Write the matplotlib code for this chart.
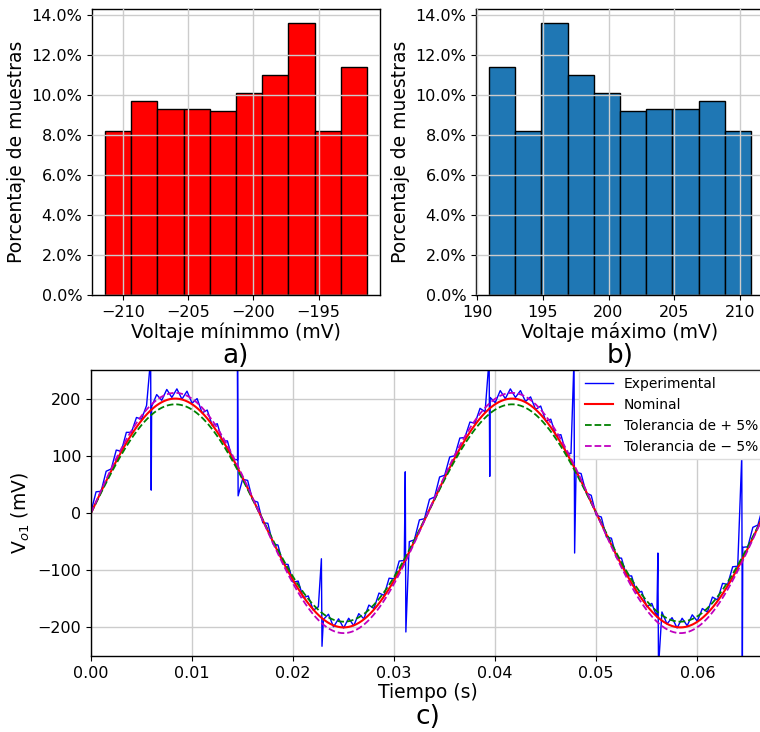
import numpy as np
import matplotlib.pyplot as plt
from matplotlib.ticker import PercentFormatter

# a) voltaje mínimo: bordes de clase y porcentaje de muestras
bins_min = np.linspace(-211.38, -191.30, 11)
pct_min = [8.2, 9.7, 9.3, 9.3, 9.2, 10.1, 11.0, 13.6, 8.2, 11.4]

# b) voltaje máximo
bins_max = np.linspace(190.89, 210.86, 11)
pct_max = [11.4, 8.2, 13.6, 11.0, 10.1, 9.2, 9.3, 9.3, 9.7, 8.2]

# c) señal nominal (200 mV, 30 Hz) y tolerancias
amp_nom = 200.0
freq = 30.0
tol = 0.05
t_end = 0.0667

# señal experimental leída cada 0.5 ms (mV)
dt = 0.0005
v_exp = [2, 37, 38, 73, 77, 110, 108, 141, 141, 167,
         164, 188, 186, 207, 197, 216, 202, 217, 199, 213,
         192, 200, 175, 180, 153, 156, 126, 126, 94, 93,
         59, 57, 22, 19, -17, -18, -54, -56, -89, -90,
         -121, -119, -148, -145, -170, -164, -186, -177, -199, -185,
         -201, -184, -197, -176, -185, -161, -167, -140, -144, -114,
         -115, -84, -83, -50, -47, -12, -10, 24, 28, 63,
         66, 98, 100, 131, 132, 159, 157, 183, 177, 202,
         193, 214, 200, 217, 202, 214, 195, 203, 181, 187,
         161, 164, 135, 137, 105, 104, 71, 69, 35, 31,
         -4, -7, -42, -44, -78, -79, -110, -110, -140, -137,
         -164, -158, -182, -173, -194, -183, -201, -184, -197, -178,
         -189, -167, -173, -147, -152, -123, -125, -94, -93, -60,
         -59, -25, -21, 12]

# picos (glitches) de la señal experimental
spike_t = [0.0059, 0.0145, 0.0228, 0.0311, 0.0394, 0.0478, 0.0561, 0.0644]
spike_hi = [270, 270, -80, 72, 270, 270, -70, 100]
spike_lo = [40, 30, -233, -208, 64, -70, -270, -270]

plt.rcParams['font.family'] = 'DejaVu Sans'
plt.rcParams['axes.linewidth'] = 1.0

fig = plt.figure(figsize=(7.6, 7.32), dpi=100)
W, H = 760.0, 732.0

def box(left, top, right, bottom):
    return [left / W, 1 - bottom / H, (right - left) / W, (bottom - top) / H]

ax_a = fig.add_axes(box(92, 9, 380, 295))
ax_b = fig.add_axes(box(476, 9, 764, 295))
ax_c = fig.add_axes(box(91, 370, 765, 656))

tick_fs = 11.5
label_fs = 13.5
tag_fs = 19

# histogramas
for ax, edges, pct, color, xlabel, tag in [
        (ax_a, bins_min, pct_min, '#ff0000', 'Voltaje mínimmo (mV)', 'a)'),
        (ax_b, bins_max, pct_max, '#1f77b4', 'Voltaje máximo (mV)', 'b)')]:
    ax.bar(edges[:-1], pct, width=np.diff(edges), align='edge',
           color=color, edgecolor='black', linewidth=1.0)
    ax.yaxis.set_major_formatter(PercentFormatter(xmax=100, decimals=1))
    ax.set_ylabel('Porcentaje de muestras', fontsize=label_fs)
    ax.set_xlabel(xlabel, fontsize=label_fs, labelpad=2)
    ax.tick_params(labelsize=tick_fs)
    ax.grid(True, color='#cccccc', linewidth=1.0)
    ax.set_axisbelow(False)
    ax.text(0.5, -0.215, tag, transform=ax.transAxes, ha='center',
            va='center', fontsize=tag_fs)

# señal
t_exp = np.arange(len(v_exp)) * dt
ts = np.concatenate([t_exp, spike_t, np.array(spike_t) + 0.00006])
vs = np.concatenate([v_exp, spike_hi, spike_lo])
order = np.argsort(ts, kind='stable')

t = np.linspace(0, t_end, 1500)
nominal = amp_nom * np.sin(2 * np.pi * freq * t)

ax_c.plot(ts[order], vs[order], color='blue', linewidth=1.0,
          label='Experimental')
ax_c.plot(t, nominal, color='red', linewidth=1.5, label='Nominal')
ax_c.plot(t, (1 - tol) * nominal, '--', color='green', linewidth=1.3,
          label='Tolerancia de + 5%')
ax_c.plot(t, (1 + tol) * nominal, '--', color='m', linewidth=1.3,
          label='Tolerancia de \u2212 5%')
ax_c.set_xlim(0, t_end)
ax_c.set_ylim(-250, 250)
ax_c.set_yticks([-200, -100, 0, 100, 200])
ax_c.set_xlabel('Tiempo (s)', fontsize=label_fs, labelpad=2)
ax_c.set_ylabel('V$_{o1}$ (mV)', fontsize=label_fs)
ax_c.tick_params(labelsize=tick_fs)
ax_c.grid(True, color='#cccccc', linewidth=1.0)
ax_c.legend(loc='upper right', fontsize=10, borderaxespad=0.1,
            fancybox=False, framealpha=1.0, edgecolor='#dddddd')
ax_c.text(0.5, -0.213, 'c)', transform=ax_c.transAxes, ha='center',
          va='center', fontsize=tag_fs)

fig.savefig('out.png', dpi=100)
